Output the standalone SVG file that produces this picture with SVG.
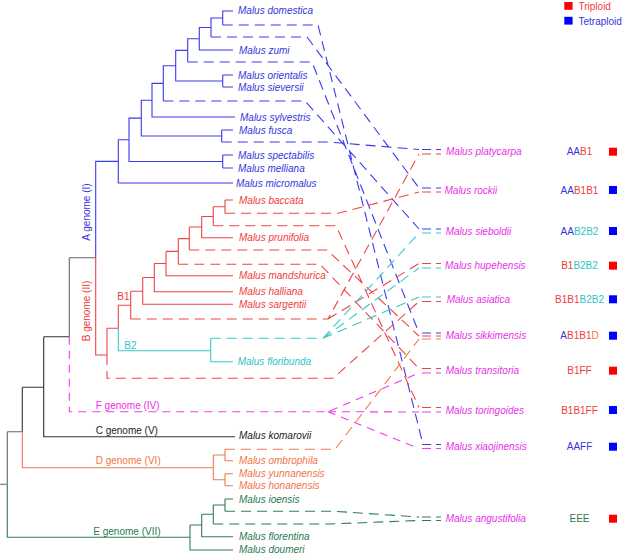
<svg xmlns="http://www.w3.org/2000/svg" width="636" height="554" viewBox="0 0 636 554">
<style>
text{font-family:"Liberation Sans",Arial,sans-serif;font-size:10px}
.i{font-style:italic}
.bl{fill:#3535e0}.rd{fill:#f03c3c}.cy{fill:#2ec4c4}.mg{fill:#e830e8}.or{fill:#f07448}.gr{fill:#2a7a50}.bk{fill:#222}
.l{fill:none;stroke-width:1.1}
.sb{stroke:#3a3aee}.sr{stroke:#f04444}.sc{stroke:#3cc8c8}.sm{stroke:#ee3cee}.so{stroke:#f07a50}.sg{stroke:#2e7d55}.sk{stroke:#333}.sy{stroke:#666}
.d{stroke-dasharray:10 6}
.dm{stroke-dasharray:8 6}
</style>
<g id="connectors">
<g id="tree">
<path class="l sb" d="M233,11H222.7V25M222.7,18H211V37M211,27.5H199.3V50H233M199.3,38.75H187.7V62M187.7,50.4H175.7V81H222.7M222.7,75V87M222.7,75H233M222.7,87H233M175.7,65.7H163.3V101M163.3,83.4H152V117H235M152,100.2H141.3V136H221.7M221.7,130V142M221.7,130H233M141.3,118.1H129V161.5H222.7M222.7,155V168M222.7,155H233M222.7,168H233M129,139.8H118.3V183H233M118.3,161.4H95.7V257.7"/>
<path class="l sr" d="M95.7,257.7V355H107M107,328.3V355M107,328.3H118.3V305.2H130.7M130.7,291.2V319M130.7,291.2H142.7M142.7,277.5V304.3H233M142.7,277.5H154.3M154.3,263.5V291.7H233M154.3,263.5H166M166,251.4V275.7H233M166,251.4H178.3M178.3,238.6V264.3M178.3,238.6H189.3M189.3,227V250M189.3,227H201.7M201.7,216.5V237.7H233M201.7,216.5H213.3M213.3,206.7V225.7M213.3,206.7H225M225,200V213.3M225,200H233"/>
<path class="l sc" d="M118.3,328.3V350.7H210.7M210.7,338.3V361.7H233"/>
<path class="l sy" d="M69.3,257.7H95.7M69.3,257.7V336.7M7.3,431.7H22.3M7.3,431.7V484.3M0,484.3H7.3"/>
<path class="l sk" d="M43.7,336.7H69.3M43.7,336.7V436.7H235M22.3,387.3H43.7M22.3,387.3V431.7"/>
<path class="l so" d="M22.3,431.7V467.7H213.3M213.3,455V479.7M213.3,455H225M225,449.3V460.7H233M213.3,479.7H225M225,473.7V485.7M225,473.7H233M225,485.7H233"/>
<path class="l sg" d="M7.3,484.3V537.3H190M190,525V550H233M190,525H201.7M201.7,514.3V536.7H233M201.7,514.3H213.3M213.3,505V524M213.3,505H225M225,499V511.3M225,499H233"/>
</g>
<g id="hybrid-links">
<path class="l sb d" d="M222.7,25H318L423,444.5M211,37H307L419,188M187.7,62H312L419,333M163.3,101H305L419,229M221.7,142H328L419,149.5"/>
<path class="l sr d" d="M225,213.3H338L419,192M213.3,225.7H336L419,407.5M189.3,250H327L419,336M178.3,264.3H320L419,368.5M130.7,319H328L419,154M328,319L419,263.5M107,355V378.3H333L419,301.5"/>
<path class="l sc d" d="M210.7,338.3H323L419,233M323,338.3L419,268M323,338.3L419,297"/>
<path class="l sm dm" d="M69.3,336.7V411.7H328L419,373M328,411.7L419,412M328,411.7L419,448.5"/>
<path class="l so d" d="M225,449.3H335L419,339"/>
<path class="l sg d" d="M225,511.3H335L419,517M213.3,524H330L419,520.5"/>
</g>
<g id="tails">
<path class="l sb" d="M422,149.5H431M436,149.5H441M422,188H431M436,188H441M422,229H431M436,229H441M422,333H431M436,333H441M422,444.5H431M436,444.5H441"/>
<path class="l sr" d="M422,154H431M436,154H441M422,192H431M436,192H441M422,263.5H431M436,263.5H441M422,301.5H431M436,301.5H441M422,336H431M436,336H441M422,368.5H431M436,368.5H441M422,407.5H431M436,407.5H441"/>
<path class="l sc" d="M422,233H431M436,233H441M422,268H431M436,268H441M422,297H431M436,297H441"/>
<path class="l so" d="M422,339H431M436,339H441"/>
<path class="l sm" d="M422,373H431M436,373H441M422,412H431M436,412H441M422,448.5H431M436,448.5H441"/>
<path class="l sg" d="M422,517H431M436,517H441M422,520.5H431M436,520.5H441"/>
</g>
</g>
<g id="genome-labels">
<text class="bl" transform="translate(90.3,212) rotate(-90)" text-anchor="middle">A genome (I)</text>
<text class="rd" transform="translate(90.3,311) rotate(-90)" text-anchor="middle">B genome (II)</text>
<text class="rd" x="117.3" y="300.3">B1</text>
<text class="cy" x="124.3" y="349.3">B2</text>
<text class="mg" x="95.7" y="408.6">F genome (IV)</text>
<text class="bk" x="95.7" y="433.6">C genome (V)</text>
<text class="or" x="95.7" y="464.3">D genome (VI)</text>
<text class="gr" x="93.3" y="534.6">E genome (VII)</text>
</g>
<g id="leaves" class="i">
<g id="n-domestica"><text class="i bl" x="238" y="14">Malus domestica</text></g>
<g id="n-zumi"><text class="i bl" x="239" y="53.5">Malus zumi</text></g>
<g id="n-orientalis"><text class="i bl" x="238" y="78.5">Malus orientalis</text></g>
<g id="n-sieversii"><text class="i bl" x="238" y="90.5">Malus sieversii</text></g>
<g id="n-sylvestris"><text class="i bl" x="240" y="120.5">Malus sylvestris</text></g>
<g id="n-fusca"><text class="i bl" x="239" y="133.5">Malus fusca</text></g>
<g id="n-spectabilis"><text class="i bl" x="238" y="158.5">Malus spectabilis</text></g>
<g id="n-melliana"><text class="i bl" x="238" y="171.5">Malus melliana</text></g>
<g id="n-micromalus"><text class="i bl" x="236" y="186.5">Malus micromalus</text></g>
<g id="n-baccata"><text class="i rd" x="239" y="203.5">Malus baccata</text></g>
<g id="n-prunifolia"><text class="i rd" x="239" y="241.2">Malus prunifolia</text></g>
<g id="n-mandshurica"><text class="i rd" x="239" y="279.2">Malus mandshurica</text></g>
<g id="n-halliana"><text class="i rd" x="239" y="295.2">Malus halliana</text></g>
<g id="n-sargentii"><text class="i rd" x="239" y="307.8">Malus sargentii</text></g>
<g id="n-floribunda"><text class="i cy" x="237.7" y="365.2">Malus floribunda</text></g>
<g id="n-komarovii"><text class="i bk" x="239" y="439">Malus komarovii</text></g>
<g id="n-ombrophila"><text class="i or" x="239" y="464.2">Malus ombrophila</text></g>
<g id="n-yunnanensis"><text class="i or" x="239" y="477.2">Malus yunnanensis</text></g>
<g id="n-honanensis"><text class="i or" x="239" y="489.2">Malus honanensis</text></g>
<g id="n-ioensis"><text class="i gr" x="239" y="502.5">Malus ioensis</text></g>
<g id="n-florentina"><text class="i gr" x="239" y="540.2">Malus florentina</text></g>
<g id="n-doumeri"><text class="i gr" x="239" y="553.3">Malus doumeri</text></g>
</g>
<g id="hybrids">
<g id="h-platycarpa"><text class="i mg" x="446" y="155.2">Malus platycarpa</text><text x="579.5" y="155.2" text-anchor="middle"><tspan class="bl">AA</tspan><tspan class="rd">B1</tspan></text><rect x="609" y="147.7" width="8" height="8" fill="#ff0000"/></g>
<g id="h-rockii"><text class="i mg" x="444.5" y="193.5">Malus rockii</text><text x="579.5" y="193.5" text-anchor="middle"><tspan class="bl">AA</tspan><tspan class="rd">B1B1</tspan></text><rect x="609" y="186" width="8" height="8" fill="#0000ff"/></g>
<g id="h-sieboldii"><text class="i mg" x="445.7" y="234.5">Malus sieboldii</text><text x="579.5" y="234.5" text-anchor="middle"><tspan class="bl">AA</tspan><tspan class="cy">B2B2</tspan></text><rect x="609" y="227" width="8" height="8" fill="#0000ff"/></g>
<g id="h-hupehensis"><text class="i mg" x="445" y="269.2">Malus hupehensis</text><text x="579.5" y="269.2" text-anchor="middle"><tspan class="rd">B1</tspan><tspan class="cy">B2B2</tspan></text><rect x="609" y="261.7" width="8" height="8" fill="#ff0000"/></g>
<g id="h-asiatica"><text class="i mg" x="446.7" y="302.8">Malus asiatica</text><text x="579.5" y="302.8" text-anchor="middle"><tspan class="rd">B1B1</tspan><tspan class="cy">B2B2</tspan></text><rect x="609" y="295.3" width="8" height="8" fill="#0000ff"/></g>
<g id="h-sikkimensis"><text class="i mg" x="445.7" y="339.2">Malus sikkimensis</text><text x="579.5" y="339.2" text-anchor="middle"><tspan class="bl">A</tspan><tspan class="rd">B1B1</tspan><tspan class="or">D</tspan></text><rect x="609" y="331.7" width="8" height="8" fill="#0000ff"/></g>
<g id="h-transitoria"><text class="i mg" x="445.7" y="374.2">Malus transitoria</text><text class="rd" x="579.5" y="374.2" text-anchor="middle">B1FF</text><rect x="609" y="366.7" width="8" height="8" fill="#ff0000"/></g>
<g id="h-toringoides"><text class="i mg" x="445.7" y="413.5">Malus toringoides</text><text class="rd" x="579.5" y="413.5" text-anchor="middle">B1B1FF</text><rect x="609" y="406" width="8" height="8" fill="#0000ff"/></g>
<g id="h-xiaojinensis"><text class="i mg" x="445.7" y="450.2">Malus xiaojinensis</text><text class="bl" x="579.5" y="450.2" text-anchor="middle">AAFF</text><rect x="609" y="442.7" width="8" height="8" fill="#0000ff"/></g>
<g id="h-angustifolia"><text class="i mg" x="445.7" y="522.2">Malus angustifolia</text><text class="gr" x="579.5" y="522.2" text-anchor="middle">EEE</text><rect x="609" y="514.7" width="8" height="8" fill="#ff0000"/></g>
</g>
<g id="legend">
<rect x="564.3" y="2" width="8.3" height="7.8" fill="#ff0000"/>
<text class="rd" x="578.5" y="9.8">Triploid</text>
<rect x="564.3" y="16.8" width="8.3" height="7.8" fill="#0000ff"/>
<text class="bl" x="578.5" y="24.8">Tetraploid</text>
</g>
</svg>
